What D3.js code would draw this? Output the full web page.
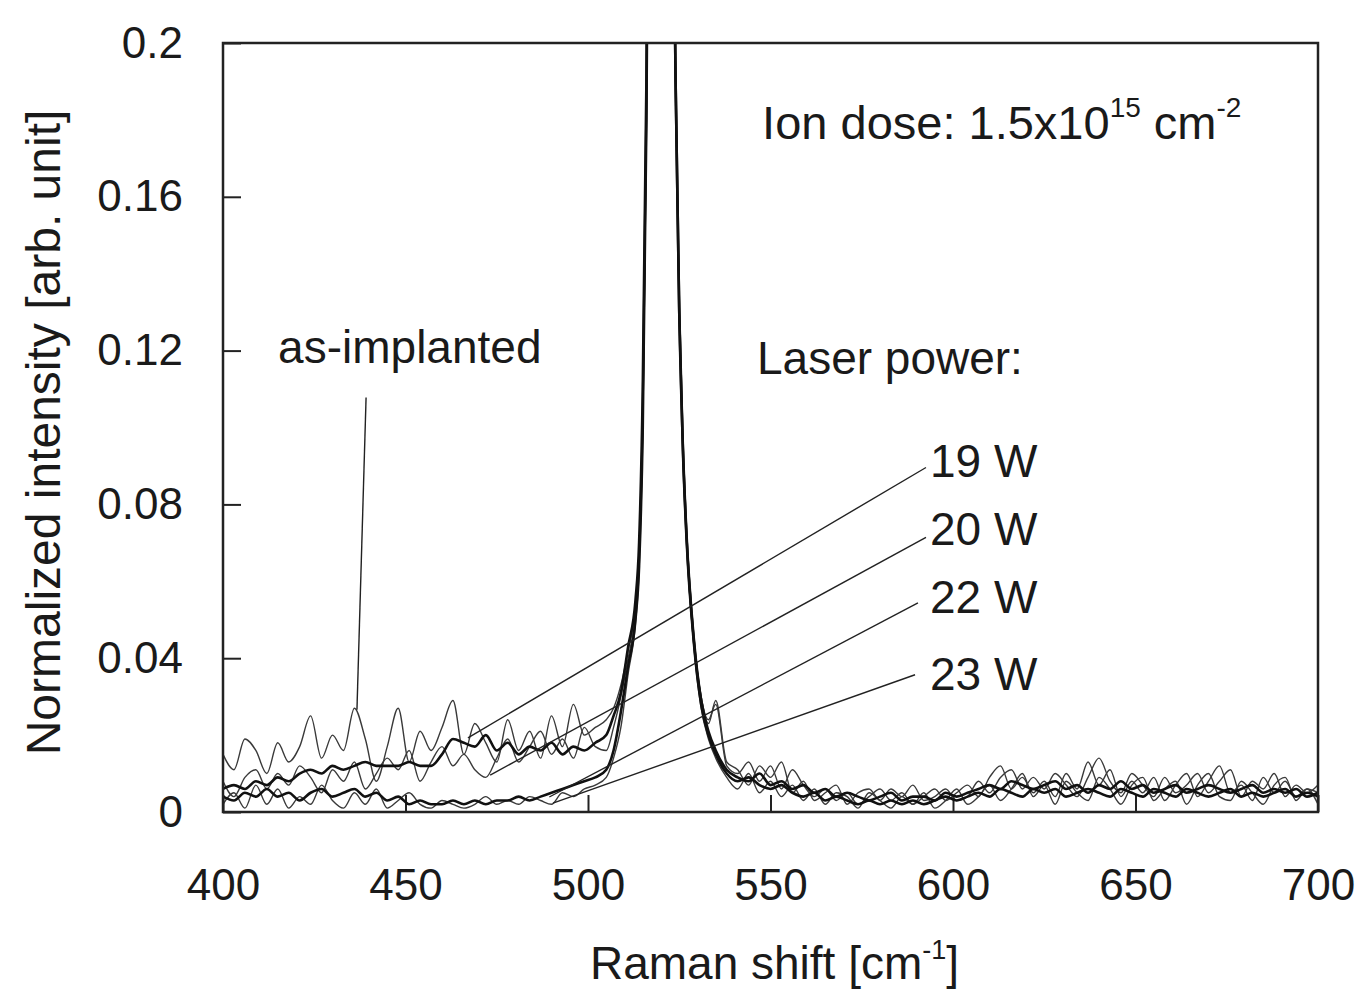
<!DOCTYPE html>
<html>
<head>
<meta charset="utf-8">
<script src="https://cdn.jsdelivr.net/npm/d3@7"></script>
<style>
body { margin: 0; background: #fff; }
text { font-family: "Liberation Sans", Arial, Helvetica, sans-serif; fill: #1a1a1a; }
</style>
</head>
<body>
<svg id="chart" width="1364" height="992"></svg>
<script>
// Raman shift grid [cm-1] shared by all spectra
var shift = [400,403,406,409,412,415,418,421,424,427,430,433,436,439,442,445,448,451,454,457,460,463,466,469,472,475,478,481,484,487,490,493,496,499,502,
    505,507,509,511,513,514,515,516,517,518,519,520,521,522,523,524,525,526,527,529,531,533,535,538,
    541,544,547,550,553,556,559,562,565,568,571,574,577,580,583,586,589,592,595,598,601,604,607,610,613,616,619,622,625,628,631,634,637,640,643,646,649,652,655,658,661,664,667,670,673,676,679,682,685,688,691,694,697,700];

var asImplanted = [0.015,0.011,0.019,0.016,0.010,0.018,0.013,0.017,0.025,0.014,0.020,0.016,0.027,0.019,0.008,0.017,0.027,0.013,0.021,0.016,0.022,0.029,0.015,0.023,0.018,0.013,0.024,0.016,0.021,0.014,0.025,0.017,0.028,0.020,0.022,
    0.024,0.027,0.033,0.042,0.053,0.068,0.105,0.185,0.33,0.56,0.86,1.0,0.86,0.57,0.31,0.195,0.135,0.098,0.074,0.046,0.030,0.024,0.028,0.012,
    0.010,0.013,0.008,0.012,0.006,0.011,0.007,0.004,0.006,0.003,0.005,0.002,0.004,0.006,0.003,0.005,0.002,0.004,0.006,0.003,0.005,0.007,0.004,0.009,0.012,0.006,0.009,0.005,0.008,0.004,0.010,0.006,0.013,0.007,0.011,0.004,0.008,0.005,0.009,0.003,0.007,0.010,0.004,0.008,0.012,0.005,0.007,0.003,0.009,0.005,0.008,0.004,0.006,0.005];

var w19 = [0.006,0.007,0.006,0.008,0.007,0.009,0.008,0.010,0.011,0.010,0.012,0.011,0.012,0.013,0.012,0.012,0.012,0.013,0.012,0.012,0.015,0.019,0.018,0.017,0.020,0.016,0.018,0.015,0.017,0.016,0.018,0.015,0.017,0.016,0.018,
    0.020,0.025,0.031,0.043,0.055,0.070,0.11,0.19,0.34,0.57,0.87,1.0,0.85,0.56,0.30,0.19,0.13,0.095,0.072,0.045,0.029,0.021,0.016,0.011,
    0.009,0.008,0.010,0.007,0.008,0.006,0.007,0.005,0.006,0.004,0.005,0.004,0.003,0.004,0.005,0.003,0.004,0.004,0.003,0.005,0.004,0.005,0.006,0.007,0.006,0.008,0.007,0.006,0.007,0.008,0.006,0.007,0.005,0.007,0.006,0.008,0.006,0.007,0.005,0.006,0.007,0.005,0.006,0.007,0.006,0.005,0.006,0.007,0.005,0.006,0.005,0.006,0.004,0.005];

var w20 = [0.008,0.004,0.009,0.011,0.006,0.010,0.007,0.012,0.009,0.005,0.011,0.008,0.013,0.006,0.010,0.014,0.011,0.016,0.008,0.013,0.017,0.012,0.015,0.011,0.009,0.014,0.019,0.013,0.017,0.021,0.015,0.019,0.014,0.022,0.017,
    0.016,0.022,0.030,0.040,0.052,0.066,0.10,0.18,0.32,0.55,0.85,1.0,0.84,0.55,0.29,0.185,0.128,0.093,0.070,0.044,0.030,0.023,0.029,0.013,
    0.011,0.007,0.012,0.009,0.013,0.005,0.008,0.003,0.005,0.007,0.002,0.005,0.006,0.003,0.006,0.004,0.007,0.003,0.004,0.006,0.003,0.004,0.008,0.005,0.009,0.011,0.006,0.009,0.006,0.010,0.007,0.004,0.009,0.014,0.008,0.005,0.010,0.007,0.004,0.009,0.005,0.007,0.010,0.005,0.008,0.011,0.004,0.008,0.006,0.010,0.004,0.007,0.005,0.007];

var w22 = [0.004,0.003,0.005,0.004,0.006,0.004,0.005,0.003,0.005,0.006,0.004,0.005,0.006,0.004,0.005,0.003,0.004,0.002,0.003,0.002,0.002,0.003,0.002,0.003,0.002,0.003,0.003,0.004,0.003,0.004,0.005,0.006,0.007,0.008,0.009,
    0.011,0.016,0.026,0.038,0.050,0.064,0.10,0.18,0.32,0.55,0.85,1.0,0.85,0.56,0.30,0.19,0.13,0.094,0.071,0.044,0.028,0.020,0.015,0.010,
    0.008,0.009,0.007,0.006,0.007,0.005,0.004,0.005,0.003,0.004,0.003,0.002,0.003,0.002,0.003,0.002,0.003,0.002,0.003,0.004,0.003,0.004,0.005,0.004,0.006,0.005,0.004,0.006,0.005,0.006,0.004,0.005,0.006,0.005,0.004,0.006,0.005,0.004,0.006,0.005,0.004,0.006,0.005,0.004,0.005,0.006,0.004,0.005,0.004,0.005,0.006,0.004,0.005,0.004];

var w23 = [0.002,0.005,0.001,0.007,0.002,0.006,0.001,0.004,0.002,0.007,0.003,0.001,0.005,0.002,0.006,0.001,0.003,0.005,0.002,0.001,0.003,0.002,0.001,0.002,0.004,0.002,0.003,0.002,0.004,0.003,0.002,0.005,0.004,0.006,0.007,
    0.009,0.014,0.022,0.036,0.049,0.063,0.098,0.175,0.31,0.54,0.84,1.0,0.85,0.56,0.30,0.19,0.13,0.094,0.071,0.043,0.027,0.019,0.014,0.009,
    0.006,0.010,0.005,0.008,0.004,0.007,0.003,0.006,0.002,0.005,0.004,0.001,0.005,0.003,0.001,0.004,0.002,0.005,0.001,0.003,0.006,0.002,0.004,0.007,0.003,0.006,0.010,0.004,0.007,0.002,0.008,0.005,0.003,0.009,0.006,0.002,0.007,0.009,0.003,0.006,0.008,0.002,0.007,0.010,0.004,0.003,0.008,0.005,0.002,0.007,0.009,0.003,0.006,0.002];

var xTicks = [400, 450, 500, 550, 600, 650, 700];
var yTicks = [0, 0.04, 0.08, 0.12, 0.16, 0.2];

// annotation text, anchored in data units
var powerLabels = ["19 W", "20 W", "22 W", "23 W"];
var powerLabelY = [0.0872, 0.0695, 0.0518, 0.0318];
// leader lines: [x1, y1, x2, y2] in data units (curve end -> label end)
var leaders = [
    [436.7, 0.0266, 439.2, 0.1078],
    [467.1, 0.0193, 592.6, 0.0896],
    [473.2, 0.0096, 592.6, 0.0714],
    [489.4, 0.0039, 590.4, 0.0544],
    [490.4, 0.0023, 589.6, 0.0357]
];

var series = [
    {values: asImplanted, thick: false},
    {values: w20, thick: false},
    {values: w23, thick: false},
    {values: w19, thick: true},
    {values: w22, thick: true}
];

var svg = d3.select("#chart"),
    plotL = 223, plotR = 1318, plotT = 43, plotB = 812;

var x = d3.scaleLinear().domain([400, 700]).range([plotL, plotR]),
    y = d3.scaleLinear().domain([0, 0.2]).range([plotB, plotT]);

svg.append("clipPath").attr("id", "plotclip")
    .append("rect")
    .attr("x", plotL).attr("y", plotT)
    .attr("width", plotR - plotL).attr("height", plotB - plotT);

// axes, ticks pointing inward
var xAxis = svg.append("g")
    .attr("transform", "translate(0," + plotB + ")")
    .call(d3.axisBottom(x).tickValues(xTicks).tickSize(-17).tickPadding(57).tickFormat(d3.format("d")));
var yAxis = svg.append("g")
    .attr("transform", "translate(" + plotL + ",0)")
    .call(d3.axisLeft(y).tickValues(yTicks).tickSize(-18).tickPadding(40)
        .tickFormat(function(d){ return d === 0 ? "0" : String(d); }));

[xAxis, yAxis].forEach(function(g){
    g.select(".domain").remove();
    g.selectAll(".tick line").attr("stroke", "#222").attr("stroke-width", 2);
    g.selectAll(".tick text").attr("font-size", 44).attr("fill", "#1a1a1a")
        .style("font-family", '"Liberation Sans", Arial, sans-serif');
});

// spectra
var line = d3.line()
    .x(function(d, i){ return x(shift[i]); })
    .y(function(d){ return y(d); })
    .curve(d3.curveMonotoneX);

svg.append("g").attr("clip-path", "url(#plotclip)")
    .selectAll("path")
    .data(series)
    .enter().append("path")
    .attr("d", function(s){ return line(s.values); })
    .attr("fill", "none")
    .attr("stroke", function(s){ return s.thick ? "#111" : "#3a3a3a"; })
    .attr("stroke-width", function(s){ return s.thick ? 2.6 : 1.4; })
    .attr("stroke-linejoin", "round");

// leader lines
svg.append("g").selectAll("line")
    .data(leaders)
    .enter().append("line")
    .attr("x1", function(d){ return x(d[0]); })
    .attr("y1", function(d){ return y(d[1]); })
    .attr("x2", function(d){ return x(d[2]); })
    .attr("y2", function(d){ return y(d[3]); })
    .attr("stroke", "#222")
    .attr("stroke-width", 1.4);

// frame
svg.append("rect")
    .attr("x", plotL).attr("y", plotT)
    .attr("width", plotR - plotL).attr("height", plotB - plotT)
    .attr("fill", "none").attr("stroke", "#222").attr("stroke-width", 2.5);

// annotations
var dose = svg.append("text").attr("x", x(547.7)).attr("y", y(0.175)).attr("font-size", 47);
dose.append("tspan").text("Ion dose: 1.5x10");
dose.append("tspan").attr("dy", -22).attr("font-size", 28).text("15");
dose.append("tspan").attr("dy", 22).text(" cm");
dose.append("tspan").attr("dy", -22).attr("font-size", 28).text("-2");

svg.append("text").attr("x", x(415.1)).attr("y", y(0.1167)).attr("font-size", 46).text("as-implanted");
svg.append("text").attr("x", x(546.3)).attr("y", y(0.1138)).attr("font-size", 46).text("Laser power:");

svg.append("g").selectAll("text")
    .data(powerLabels)
    .enter().append("text")
    .attr("x", x(593.7))
    .attr("y", function(d, i){ return y(powerLabelY[i]); })
    .attr("font-size", 46)
    .text(function(d){ return d; });

// axis titles
var xt = svg.append("text")
    .attr("x", (plotL + plotR) / 2 + 4).attr("y", 979)
    .attr("text-anchor", "middle").attr("font-size", 46);
xt.append("tspan").text("Raman shift [cm");
xt.append("tspan").attr("dy", -20).attr("font-size", 27).text("-1");
xt.append("tspan").attr("dy", 20).text("]");

svg.append("text")
    .attr("transform", "translate(60," + ((plotT + plotB) / 2 + 5) + ") rotate(-90)")
    .attr("text-anchor", "middle").attr("font-size", 48)
    .text("Normalized intensity [arb. unit]");
</script>
</body>
</html>
